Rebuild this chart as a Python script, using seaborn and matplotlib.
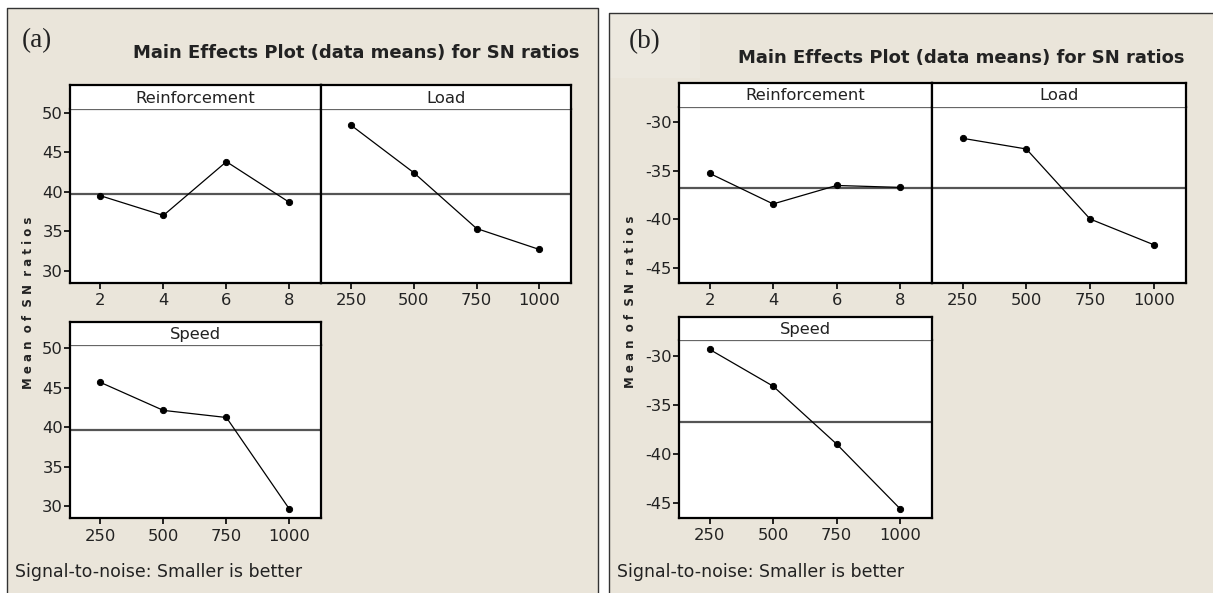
import numpy as np
import pandas as pd
import matplotlib
matplotlib.use("Agg")
import matplotlib.pyplot as plt
import seaborn as sns
from matplotlib.patches import Rectangle
from matplotlib.lines import Line2D

# ---------------- data ----------------
reinforcement_levels = ["2", "4", "6", "8"]
load_levels = ["250", "500", "750", "1000"]
speed_levels = ["250", "500", "750", "1000"]

a_reinforcement = [39.5, 37.0, 43.8, 38.65]
a_load = [48.4, 42.4, 35.35, 32.7]
a_speed = [45.7, 42.15, 41.25, 29.65]

b_reinforcement = [-35.25, -38.4, -36.5, -36.7]
b_load = [-31.65, -32.75, -39.95, -42.6]
b_speed = [-29.35, -33.1, -39.0, -45.6]

a_yticks = [30, 35, 40, 45, 50]
b_yticks = [-45, -40, -35, -30]

title_text = "Main Effects Plot (data means) for SN ratios"
ylabel_text = "M e a n  o f  S N  r a t i o s"
footer_text = "Signal-to-noise: Smaller is better"

# ---------------- style ----------------
sns.set_style("white")
plt.rcParams["font.family"] = ["DejaVu Sans"]
plt.rcParams["axes.unicode_minus"] = False

W, H = 1213, 593
fig = plt.figure(figsize=(W / 100, H / 100), dpi=100, facecolor="white")

BEIGE = "#EAE5DA"
TXT = "#222222"


def box(x0, y0, x1, y1):
    return [x0 / W, 1 - y1 / H, (x1 - x0) / W, (y1 - y0) / H]


def fline(xs, ys, **kw):
    fig.add_artist(Line2D([x / W for x in xs], [1 - y / H for y in ys],
                          transform=fig.transFigure, **kw))


# panel backgrounds
fig.add_artist(Rectangle((7.3 / W, 0), (598.3 - 7.3) / W, 1 - 8.3 / H,
                         transform=fig.transFigure, facecolor=BEIGE,
                         edgecolor="none", zorder=-10))
fig.add_artist(Rectangle((609.3 / W, 0), (W - 609.3) / W, 1 - 12.7 / H,
                         transform=fig.transFigure, facecolor=BEIGE,
                         edgecolor="none", zorder=-10))
fig.add_artist(Rectangle((610 / W, 1 - 78 / H), 90 / W, 65 / H,
                         transform=fig.transFigure, facecolor="#ECE8DF",
                         edgecolor="none", zorder=-9))
fline([7.3, 7.3, 598.3, 598.3], [H + 2, 8.3, 8.3, H + 2], color="#333333", lw=1.0)
fline([609.3, 609.3, W + 2], [H + 2, 12.7, 12.7], color="#333333", lw=1.0)


def facet(x0, x1, st, sb, db, name, levels, values, ylim, yticks, grand, show_y):
    ax = fig.add_axes(box(x0, sb, x1, db))
    ax.set_facecolor("white")
    df = pd.DataFrame({"level": levels, "value": values})
    sns.pointplot(data=df, x="level", y="value", color="black", markers="o",
                  errorbar=None, markersize=4.5, linewidth=0.9, ax=ax)
    ax.axhline(grand, color="#555555", lw=1.6, zorder=0.5)
    ax.set_xlim(-0.48, 3.5)
    ax.set_ylim(*ylim)
    ax.set_yticks(yticks)
    ax.set_xlabel("")
    ax.set_ylabel("")
    for s in ("left", "right", "bottom"):
        ax.spines[s].set_color("black")
        ax.spines[s].set_linewidth(1.6)
    ax.spines["top"].set_color("#666666")
    ax.spines["top"].set_linewidth(0.9)
    ax.tick_params(axis="x", direction="out", length=4.5, width=1.2, color="black",
                   labelsize=11.8, labelcolor=TXT, pad=3, bottom=True)
    ax.tick_params(axis="y", direction="out", length=4, width=1.2, color="black",
                   labelsize=11.8, labelcolor=TXT, pad=1, left=show_y, labelleft=show_y)
    sax = fig.add_axes(box(x0, st, x1, sb))
    sax.set_facecolor("white")
    sax.set_xticks([])
    sax.set_yticks([])
    for s in ("left", "right", "top"):
        sax.spines[s].set_color("black")
        sax.spines[s].set_linewidth(1.6)
    sax.spines["bottom"].set_visible(False)
    sax.text(0.5, 0.45, name, ha="center", va="center", fontsize=11.8,
             color=TXT, transform=sax.transAxes)
    return ax


# ---------------- panel (a) ----------------
a_grand = float(np.mean(a_reinforcement + a_load + a_speed))
a_ylim = (28.5, 50.42)
facet(70, 321, 85, 109.3, 282.7, "Reinforcement", reinforcement_levels,
      a_reinforcement, a_ylim, a_yticks, a_grand, True)
facet(321, 570.7, 85, 109.3, 282.7, "Load", load_levels, a_load,
      a_ylim, a_yticks, a_grand, False)
facet(70, 321, 322.3, 345, 518.3, "Speed", speed_levels, a_speed,
      a_ylim, a_yticks, a_grand, True)

fig.text(37 / W, 1 - 41 / H, "(a)", family="Liberation Serif", fontsize=19.5,
         ha="center", va="center", color=TXT)
fig.text(579.3 / W, 1 - 58.3 / H, title_text, fontsize=13, fontweight="bold",
         ha="right", va="baseline", color=TXT)
fig.text(28.3 / W, 1 - 303 / H, ylabel_text, fontsize=8.5, fontweight="bold",
         rotation=90, ha="center", va="center", color=TXT)
fig.text(15 / W, 1 - 571.7 / H, footer_text, fontsize=12.5, ha="left",
         va="center", color=TXT)

# ---------------- panel (b) ----------------
b_grand = float(np.mean(b_reinforcement + b_load + b_speed))
b_ylim = (-46.5, -28.4)
facet(679, 932, 82.7, 106.7, 282.7, "Reinforcement", reinforcement_levels,
      b_reinforcement, b_ylim, b_yticks, b_grand, True)
facet(932, 1185.7, 82.7, 106.7, 282.7, "Load", load_levels, b_load,
      b_ylim, b_yticks, b_grand, False)
facet(679, 932, 317.3, 340, 517.7, "Speed", speed_levels, b_speed,
      b_ylim, b_yticks, b_grand, True)

fig.text(645 / W, 1 - 41.5 / H, "(b)", family="Liberation Serif", fontsize=19.5,
         ha="center", va="center", color=TXT)
fig.text(1184.7 / W, 1 - 62.7 / H, title_text, fontsize=13, fontweight="bold",
         ha="right", va="baseline", color=TXT)
fig.text(631 / W, 1 - 302 / H, ylabel_text, fontsize=8.5, fontweight="bold",
         rotation=90, ha="center", va="center", color=TXT)
fig.text(616.7 / W, 1 - 571.7 / H, footer_text, fontsize=12.5, ha="left",
         va="center", color=TXT)

fig.savefig("out.png", dpi=100, facecolor="white")
